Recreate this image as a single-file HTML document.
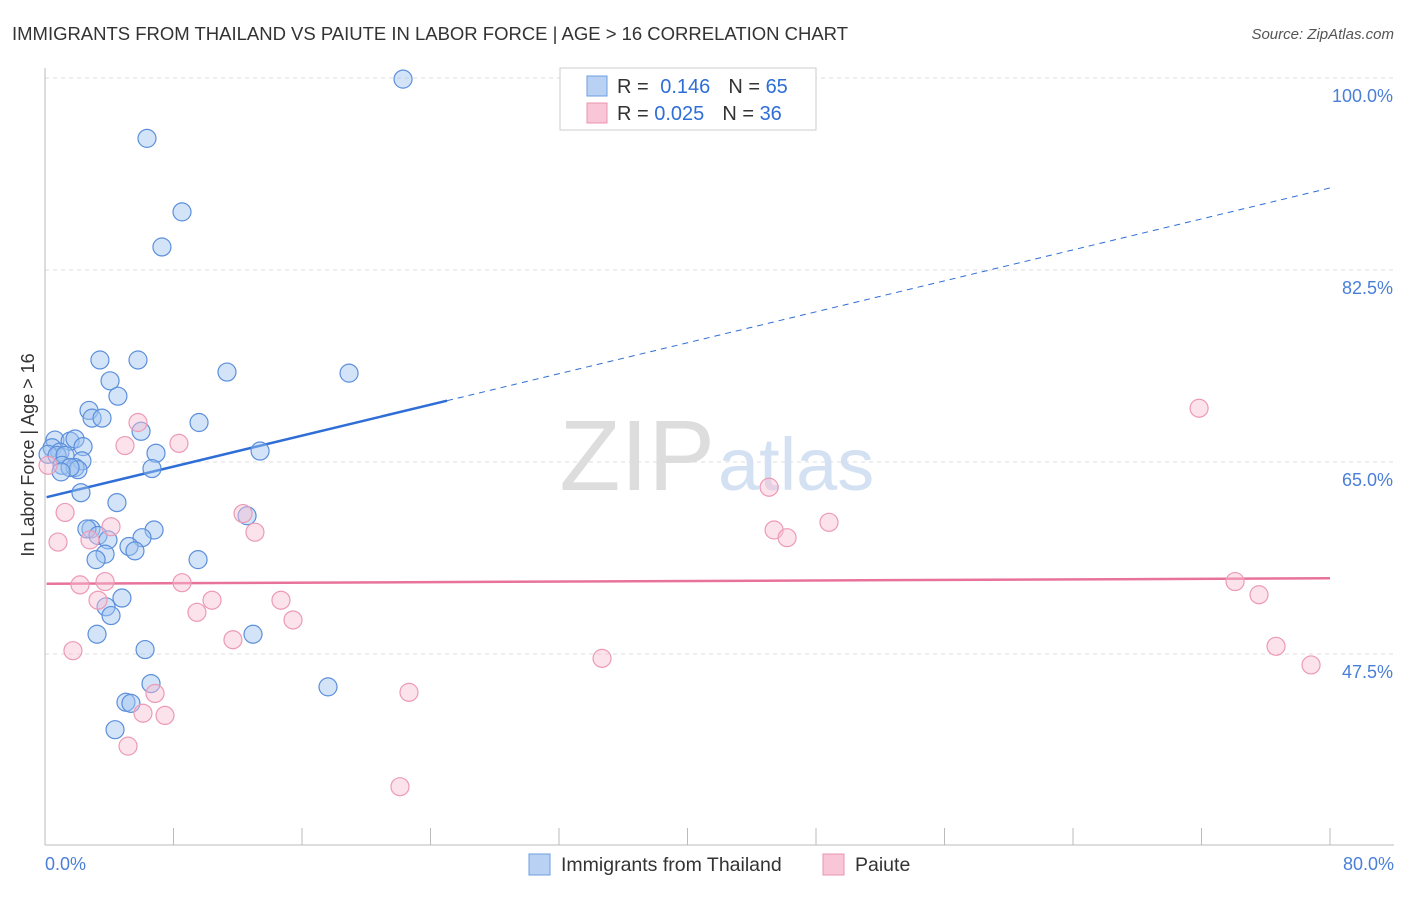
<!DOCTYPE html>
<html><head><meta charset="utf-8"><style>
body{margin:0;background:#fff;font-family:"Liberation Sans",sans-serif}
svg text{font-family:"Liberation Sans",sans-serif}
</style></head><body>
<svg id="chart" width="1406" height="892">
<text x="12" y="40" font-size="18.5" fill="#333" textLength="836">IMMIGRANTS FROM THAILAND VS PAIUTE IN LABOR FORCE | AGE &gt; 16 CORRELATION CHART</text>
<text x="1394" y="39" font-size="15" fill="#555" font-style="italic" text-anchor="end">Source: ZipAtlas.com</text>
<g id="grid"></g>
<text x="715" y="490" font-size="100" fill="#ddd" font-family="Liberation Serif" text-anchor="end">ZIP</text>
<text x="718" y="490" font-size="74" fill="#d3e1f3">atlas</text>
<line x1="45" y1="68" x2="45" y2="845" stroke="#bbb"/>
<line x1="45" y1="845" x2="1394" y2="845" stroke="#bbb"/>
<text transform="translate(34,455) rotate(-90)" font-size="18" fill="#333" text-anchor="middle">In Labor Force | Age &gt; 16</text>
<text x="45" y="870" font-size="18" fill="#4a7fd8">0.0%</text>
<text x="1394" y="870" font-size="18" fill="#4a7fd8" text-anchor="end">80.0%</text>
<g id="lines"></g>
<g id="points"></g>
<g>
<rect x="560" y="68" width="256" height="62" fill="#fff" stroke="#ccc"/>
<rect x="587" y="76" width="20" height="20" fill="#b9d2f3" stroke="#6d9de0"/>
<rect x="587" y="103" width="20" height="20" fill="#f8c6d6" stroke="#eb94b0"/>
<text x="617" y="93" font-size="20" fill="#333">R = <tspan fill="#2f6ed6" dx="6">0.146</tspan><tspan dx="18">N = </tspan><tspan fill="#2f6ed6">65</tspan></text>
<text x="617" y="120" font-size="20" fill="#333">R = <tspan fill="#2f6ed6">0.025</tspan><tspan dx="18">N = </tspan><tspan fill="#2f6ed6">36</tspan></text>
</g>
<g>
<rect x="529" y="854" width="21" height="21" fill="#b9d2f3" stroke="#6d9de0"/>
<text x="561" y="871" font-size="19.5" fill="#333">Immigrants from Thailand</text>
<rect x="823" y="854" width="21" height="21" fill="#f8c6d6" stroke="#eb94b0"/>
<text x="855" y="871" font-size="19.5" fill="#333">Paiute</text>
</g>
</svg>
<script>
const yTicks=[47.5,65.0,82.5,100.0];
const yTickLabels=["47.5%","65.0%","82.5%","100.0%"];
const xTicks=[0,8,16,24,32,40,48,56,64,72,80];
const blueX=[22.29,6.35,8.53,7.28,3.42,5.79,4.05,4.54,11.33,18.93,2.74,2.93,3.55,9.59,5.98,0.62,1.56,1.87,2.37,0.44,0.93,0.19,0.75,1.25,6.91,13.39,2.30,1.06,1.87,2.05,1.56,6.66,1.00,2.24,4.48,12.58,2.86,2.61,6.79,3.30,3.92,6.04,5.23,5.60,3.74,3.18,9.53,4.79,3.80,4.11,3.24,12.95,6.23,6.60,17.62,5.04,5.35,4.36];
const blueY=[99.9,94.5,87.8,84.6,74.3,74.3,72.4,71.0,73.2,73.1,69.7,69.0,69.0,68.6,67.8,67.0,66.9,67.1,66.4,66.3,65.9,65.7,65.6,65.6,65.8,66.0,65.1,64.7,64.5,64.3,64.5,64.4,64.1,62.2,61.3,60.1,58.9,58.9,58.8,58.3,57.9,58.1,57.3,56.9,56.6,56.1,56.1,52.6,51.8,51.0,49.3,49.3,47.9,44.8,44.5,43.1,43.0,40.6];
const pinkX=[5.79,4.98,8.34,71.85,1.25,0.81,4.11,2.80,12.33,13.07,45.08,45.39,46.20,48.81,2.18,3.74,8.53,3.30,10.40,9.46,14.69,15.44,11.70,1.74,34.68,6.85,6.10,7.47,22.66,5.17,22.10,74.09,75.58,76.64,78.82,0.19];
const pinkY=[68.6,66.5,66.7,69.9,60.4,57.7,59.1,57.9,60.3,58.6,62.7,58.8,58.1,59.5,53.8,54.1,54.0,52.4,52.4,51.3,52.4,50.6,48.8,47.8,47.1,43.9,42.1,41.9,44.0,39.1,35.4,54.1,52.9,48.2,46.5,64.7];
const blueTrend=[61.76,89.98];
const pinkTrend=[53.9,54.4];
const blueSolidEnd=25.03;
const NS="http://www.w3.org/2000/svg";
const X=v=>45+v/80*1285;
const Y=v=>462-(v-65)*10.97;
function mk(tag,attrs,parent){const e=document.createElementNS(NS,tag);for(const k in attrs)e.setAttribute(k,attrs[k]);document.getElementById(parent).appendChild(e);return e;}
yTicks.forEach((t,i)=>{
  const l=mk('line',{x1:45,x2:1394,y1:Y(t),y2:Y(t),stroke:'#ddd','stroke-dasharray':'4,4'},'grid');
  
  
  const tx=mk('text',{x:1393,y:Y(t)+24,'font-size':18,fill:'#4a7fd8','text-anchor':'end'},'grid');
  tx.textContent=yTickLabels[i];
  
  
});
xTicks.forEach(t=>{
  const l=mk('line',{x1:X(t),x2:X(t),y1:828,y2:845,stroke:'#bbb'},'grid');
  
  
});
const bt=x=>blueTrend[0]+(blueTrend[1]-blueTrend[0])*x/80;
let l1=mk('line',{x1:X(0.1),y1:Y(bt(0.1)),x2:X(blueSolidEnd),y2:Y(bt(blueSolidEnd)),stroke:'#2f6ed6','stroke-width':2.5},'lines');


let l2=mk('line',{x1:X(blueSolidEnd),y1:Y(bt(blueSolidEnd)),x2:X(80),y2:Y(bt(80)),stroke:'#2f6ed6','stroke-width':1,'stroke-dasharray':'6,5'},'lines');


let l3=mk('line',{x1:X(0.1),y1:Y(pinkTrend[0]),x2:X(80),y2:Y(pinkTrend[1]),stroke:'#e8739a','stroke-width':2.5},'lines');


blueX.forEach((x,i)=>{
  const c=mk('circle',{cx:X(x),cy:Y(blueY[i]),r:9,fill:'rgba(160,195,240,0.45)',stroke:'#5b8fdc','stroke-width':1.2},'points');
  
  
});
pinkX.forEach((x,i)=>{
  const c=mk('circle',{cx:X(x),cy:Y(pinkY[i]),r:9,fill:'rgba(248,190,210,0.45)',stroke:'#ec9ab5','stroke-width':1.2},'points');
  
  
});
</script>
</body></html>
